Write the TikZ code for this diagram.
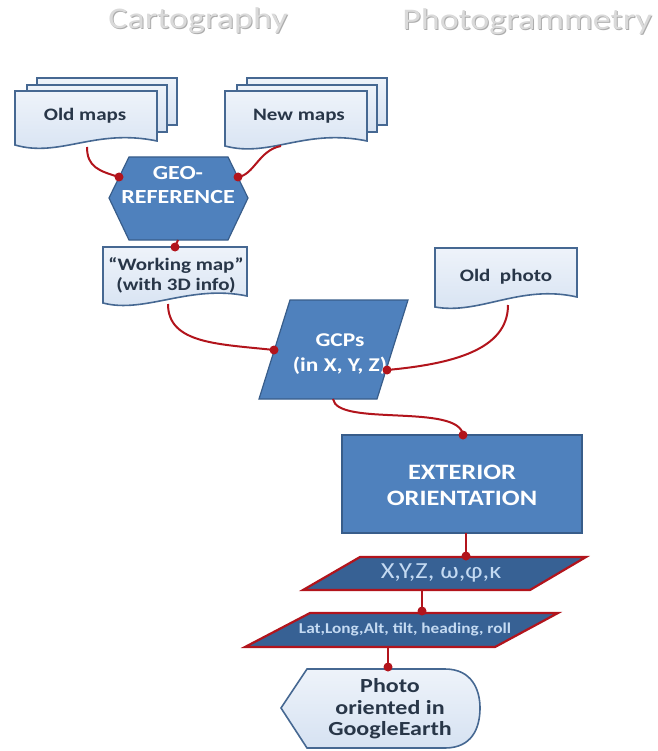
\documentclass[tikz,border=0pt]{standalone}
\usepackage{fontspec}
\setmainfont{Carlito}
\definecolor{DocClr}{RGB}{214,226,242}
\definecolor{DocTopClr}{RGB}{238,243,250}
\definecolor{DocLineClr}{RGB}{70,104,146}
\definecolor{DocTextClr}{RGB}{40,54,72}
\definecolor{BlueClr}{RGB}{79,129,189}
\definecolor{BlueLineClr}{RGB}{56,93,138}
\definecolor{DarkBlueClr}{RGB}{55,97,148}
\definecolor{RedClr}{RGB}{178,20,28}
\definecolor{LightTextClr}{RGB}{196,218,242}
\definecolor{TitleClr}{RGB}{218,218,218}
\definecolor{ShadowClr}{RGB}{172,172,172}

\tikzset{
  doc/.style={draw=DocLineClr,line width=1.6pt,top color=DocTopClr,bottom color=DocClr},
  blueshape/.style={draw=BlueLineClr,line width=1.2pt,fill=BlueClr},
  param/.style={draw=RedClr,line width=2.2pt,fill=DarkBlueClr},
  link/.style={draw=RedClr,line width=2pt},
  dot/.style={fill=RedClr},
  title/.style={text=TitleClr,font=\fontsize{30}{36}\selectfont,xscale=1.2,inner sep=0pt},
  titleshadow/.style={title,text=ShadowClr},
  doctext/.style={text=DocTextClr,font=\bfseries\fontsize{17.5}{20}\selectfont,xscale=1.2,align=center,inner sep=0pt},
  bluetext/.style={text=white,font=\bfseries\fontsize{20}{24.5}\selectfont,xscale=1.2,align=center,inner sep=0pt},
  paramtext/.style={text=LightTextClr,xscale=1.15,inner sep=0pt}
}

\begin{document}
\begin{tikzpicture}[x=1pt,y=-1pt]
\useasboundingbox (0,0) rectangle (657,751);

\node[titleshadow] (cartoshadow) at (199,22) {Cartography};
\node[title] (carto) at (198,21) {Cartography};
\node[titleshadow] (photoshadow) at (528,23) {Photogrammetry};
\node[title] (photo) at (527,22) {Photogrammetry};

\path[doc] (37,78) rectangle (177,125);
\path[doc] (27,85) rectangle (167,132);
\path[doc] (15,91) -- (157,91) -- (157,141) .. controls (95,128) and (60,158) .. (15,145) -- cycle;

\path[doc] (247,78) rectangle (387,125);
\path[doc] (237,85) rectangle (377,132);
\path[doc] (225,91) -- (367,91) -- (367,141) .. controls (305,128) and (270,158) .. (225,146) -- cycle;

\path[blueshape] (109,198) -- (129,157) -- (228,157) -- (248,198) -- (228,240) -- (129,240) -- cycle;

\path[doc] (103,247) -- (247,247) -- (247,296) .. controls (190,284) and (145,314) .. (103,303) -- cycle;
\path[doc] (435,248) -- (577,248) -- (577,297) .. controls (520,284) and (480,315) .. (435,307) -- cycle;

\path[blueshape] (290,300) -- (408,300) -- (377,399) -- (259,399) -- cycle;

\path[blueshape] (342,435) rectangle (582,533);

\path[param] (360,557) -- (586,557) -- (530,590) -- (303,590) -- cycle;
\path[param] (310,613) -- (558,613) -- (495,647) -- (245,647) -- cycle;

\path[doc] (281,708) -- (307,669) -- (445,669) .. controls (472,669) and (480,690) .. (480,708)
  .. controls (480,728) and (472,748) .. (445,748) -- (307,748) -- cycle;

\node[doctext] (oldmaps) at (85,116) {Old maps};
\node[doctext] (newmaps) at (299,116) {New maps};
\node[bluetext] (georef) at (178,185) {GEO-\\REFERENCE};
\node[doctext] (workmap) at (176,275) {“Working map”\\(with 3D info)};
\node[doctext] (oldphoto) at (506,277) {Old\ \ photo};
\node[bluetext,font=\bfseries\fontsize{19.5}{25}\selectfont] (gcps) at (340,354) {GCPs\\(in X, Y, Z)};
\node[bluetext,font=\bfseries\fontsize{22}{26}\selectfont] (exterior) at (462,485) {EXTERIOR\\ORIENTATION};
\node[paramtext,font=\fontsize{23}{26}\selectfont] (angles) at (441,573) {X,Y,Z, ω,φ,κ};
\node[paramtext,font=\bfseries\fontsize{15}{18}\selectfont] (latlong) at (405,629) {Lat,Long,Alt, tilt, heading, roll};
\node[doctext,font=\bfseries\fontsize{20}{21.5}\selectfont] (result) at (390,709) {Photo\\oriented in\\GoogleEarth};

\coordinate (oldmaps-s) at (87,147);
\coordinate (newmaps-s) at (281,146);
\coordinate (georef-w) at (119,177);
\coordinate (georef-e) at (238,177);
\coordinate (georef-s) at (178,240);
\coordinate (workmap-n) at (175,247);
\coordinate (workmap-s) at (168,304);
\coordinate (oldphoto-s) at (508,305);
\coordinate (gcps-w) at (274,350);
\coordinate (gcps-e) at (387,370);
\coordinate (gcps-s) at (333,399);
\coordinate (exterior-n) at (463,435);
\coordinate (exterior-s) at (466,533);
\coordinate (angles-n) at (466,556);
\coordinate (angles-s) at (422,590);
\coordinate (latlong-n) at (422,611);
\coordinate (latlong-s) at (388,647);
\coordinate (result-n) at (388,667);

\draw[link] (oldmaps-s) .. controls +(0,20) and +(-20,-6) .. (georef-w);
\draw[link] (newmaps-s) .. controls +(-22,4) and +(16,-2) .. (georef-e);
\draw[link] (georef-s) -- (workmap-n);
\draw[link] (workmap-s) .. controls +(0,40) and +(-55,-6) .. (gcps-w);
\draw[link] (oldphoto-s) .. controls +(0,45) and +(65,-6) .. (gcps-e);
\draw[link] (gcps-s) .. controls +(4,28) and +(-4,-32) .. (exterior-n);
\draw[link] (exterior-s) -- (angles-n);
\draw[link] (angles-s) -- (latlong-n);
\draw[link] (latlong-s) -- (result-n);

\foreach \p in {georef-w,georef-e,workmap-n,gcps-w,gcps-e,exterior-n,angles-n,latlong-n,result-n}
  \fill[dot] (\p) circle (4.5);

\end{tikzpicture}
\end{document}
